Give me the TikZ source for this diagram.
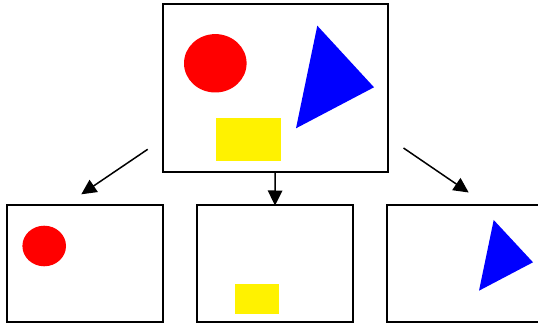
\documentclass[tikz,border=0pt]{standalone}
\usetikzlibrary{positioning,arrows.meta}
\begin{document}
\begin{tikzpicture}[x=1pt, y=-1pt,
                    frame/.style={draw, line width=2pt, inner sep=0pt, outer sep=0pt, anchor=north west},
                    link/.style={line width=1.5pt, -{Triangle[length=15pt, width=14.5pt]}},
                    disc/.style={fill=red},
                    wedge/.style={fill=blue},
                    bar/.style={fill=yellow}]
  \path[use as bounding box] (0,0) rectangle (538,323);
  \clip (0,0) rectangle (538,323);
  % the whole picture and its three parts
  \node[frame, minimum width=224.5pt, minimum height=168pt] (whole) at (163,4) {};
  \node[frame, minimum width=155.5pt, minimum height=116pt] (left) at (7,205.5) {};
  \node[frame, minimum width=156pt, minimum height=116pt] (mid) at (197,205.5) {};
  \node[frame, minimum width=160pt, minimum height=116pt] (right) at (387.3,205.5) {};
  \fill[disc] (215.3,63.3) ellipse [x radius=31.3, y radius=29.2];
  \fill[wedge] (317.3,25.7) -- (374,87.3) -- (296,128.3) -- cycle;
  \fill[bar] (216,117.7) rectangle (281.3,161.3);
  \fill[disc] (44.2,246) ellipse [x radius=21.8, y radius=20.3];
  \fill[bar] (234.7,283.5) rectangle (279.3,313.5);
  \fill[wedge] (493.7,220) -- (533,262.3) -- (479,290.7) -- cycle;
  % arrows
  \coordinate (lfrom) at (147.7,149.3); \coordinate (lto) at (81.3,194.3);
  \coordinate (rfrom) at (403.5,148);   \coordinate (rto) at (468.7,192.5);
  \draw[link] (lfrom) -- (lto);
  \draw[link] (whole.south) -- (mid.north);
  \draw[link] (rfrom) -- (rto);
\end{tikzpicture}
\end{document}
